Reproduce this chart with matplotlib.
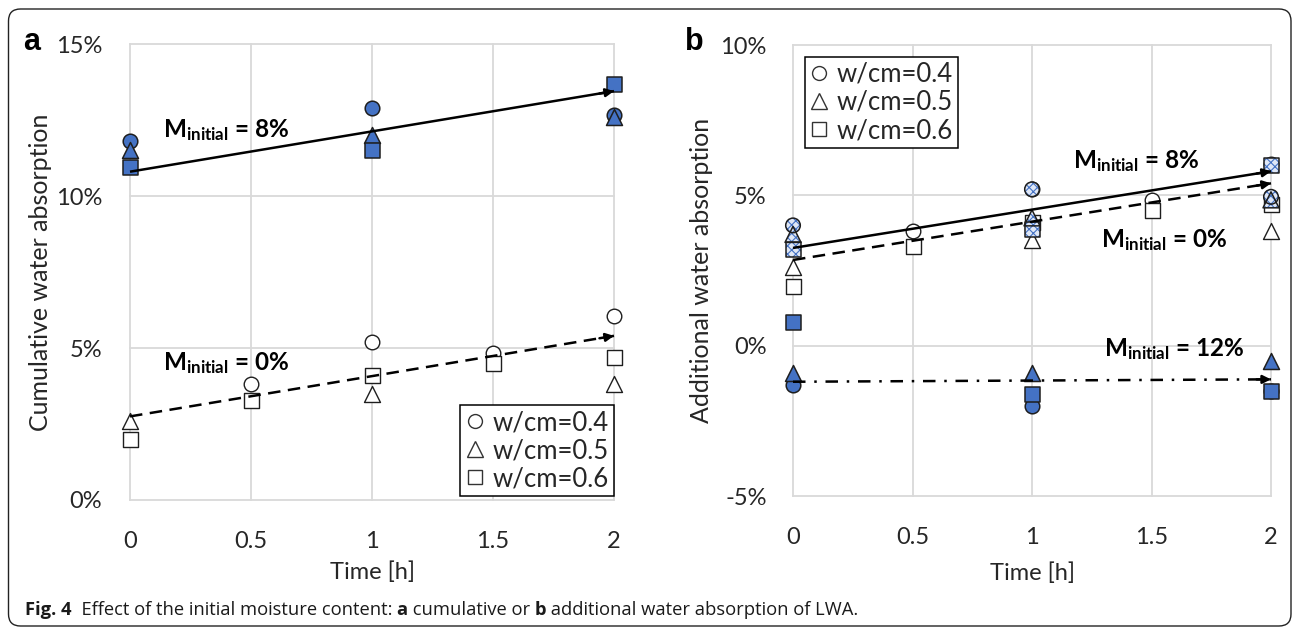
import matplotlib
matplotlib.use('Agg')
import matplotlib.pyplot as plt
from matplotlib.patches import FancyBboxPatch
from matplotlib.lines import Line2D
from matplotlib.ticker import FuncFormatter

plt.rcParams['font.family'] = ['Lato', 'DejaVu Sans']
plt.rcParams['mathtext.fontset'] = 'custom'
plt.rcParams['mathtext.rm'] = 'Lato'
plt.rcParams['mathtext.bf'] = 'Lato:bold'
plt.rcParams['mathtext.it'] = 'Lato:italic'
plt.rcParams['hatch.linewidth'] = 0.8

# ---------------- data ----------------
times = [0, 0.5, 1, 1.5, 2]
series_labels = ['w/cm=0.4', 'w/cm=0.5', 'w/cm=0.6']
trend_t = [0, 2]

# M_initial = 8 % (panel a, cumulative)
m8_t = [0, 1, 2]
a_m8_circle = [11.8, 12.9, 12.65]
a_m8_triangle = [11.5, 12.0, 12.6]
a_m8_square = [10.95, 11.5, 13.7]
a_m8_trend = [10.8, 13.45]

# M_initial = 0 % (same in both panels)
m0_circle_t = [0.5, 1, 1.5, 2]
m0_circle = [3.8, 5.2, 4.85, 6.05]
m0_triangle_t = [0, 1, 2]
m0_triangle = [2.6, 3.5, 3.8]
m0_square_t = [0, 0.5, 1, 1.5, 2]
m0_square = [2.0, 3.3, 4.1, 4.5, 4.7]
a_m0_trend = [2.75, 5.4]

# panel b, additional water absorption
b_m8_circle = [4.0, 5.2, 4.95]
b_m8_triangle = [3.7, 4.25, 4.85]
b_m8_square = [3.2, 3.85, 6.0]
b_m8_trend = [3.25, 5.8]
b_m0_trend = [2.85, 5.4]
m12_t = [0, 1, 2]
b_m12_circle = [-1.3, -2.0, -1.5]
b_m12_triangle = [-0.9, -0.9, -0.5]
b_m12_square = [0.8, -1.6, -1.5]
b_m12_trend = [-1.2, -1.12]

a_yticks = [0, 5, 10, 15]
b_yticks = [-5, 0, 5, 10]

# ---------------- style ----------------
W, H = 1293, 628
BLUE = '#4472C4'
EDGE = '#1e1e1e'
GRID = '#D9D9D9'
TXT = '#262626'
MS = {'o': 10.5, '^': 11.5, 's': 10.8}
markers = ['o', '^', 's']

fig = plt.figure(figsize=(W / 100, H / 100), dpi=100)


def px_axes(l, t, r, b):
    return fig.add_axes([l / W, 1 - b / H, (r - l) / W, (b - t) / H])


def style_axes(ax, ylim, yticks, ylabel, xpad, ypad, ylab_x, xlab_y):
    ax.set_xlim(0, 2)
    ax.set_ylim(*ylim)
    ax.set_xticks(times)
    ax.set_xticklabels([f'{t:g}' for t in times])
    ax.set_yticks(yticks)
    ax.yaxis.set_major_formatter(FuncFormatter(lambda v, p: f'{v:g}%'))
    for s in ax.spines.values():
        s.set_visible(False)
    ax.grid(True, color=GRID, lw=1.3, zorder=0)
    ax.set_axisbelow(True)
    ax.tick_params(length=0, labelsize=17, colors=TXT)
    ax.tick_params(axis='x', pad=xpad)
    ax.tick_params(axis='y', pad=ypad)
    ax.set_xlabel('Time [h]', fontsize=17, color=TXT)
    ax.set_ylabel(ylabel, fontsize=18, color=TXT)
    ax.yaxis.set_label_coords(ylab_x, 0.5)
    ax.xaxis.set_label_coords(0.5, xlab_y)
    for gl in ax.get_xgridlines() + ax.get_ygridlines():
        gl.set_clip_on(False)


def sc(ax, t, v, m, kind, z=4):
    s = MS[m] ** 2
    if kind == 'solid':
        ax.scatter(t, v, s=s, marker=m, facecolors=BLUE, edgecolors=EDGE,
                   linewidths=1.1, zorder=z, clip_on=False)
    elif kind == 'open':
        ax.scatter(t, v, s=s, marker=m, facecolors='white', edgecolors=EDGE,
                   linewidths=1.0, zorder=z, clip_on=False)
    else:  # patterned
        ax.scatter(t, v, s=s, marker=m, facecolors='#dfe7f6', edgecolors=BLUE,
                   linewidths=0, hatch='xxxx', zorder=z, clip_on=False)
        ax.scatter(t, v, s=s, marker=m, facecolors='none', edgecolors=EDGE,
                   linewidths=1.1, zorder=z + 0.01, clip_on=False)


def trend(ax, vals, ls, lw=1.8):
    ax.plot(trend_t, vals, color='black', lw=lw, ls=ls, zorder=6,
            solid_capstyle='butt', clip_on=False)
    # arrowhead at the end of the trend line
    f = 0.97
    tail = (trend_t[0] + f * (trend_t[1] - trend_t[0]),
            vals[0] + f * (vals[1] - vals[0]))
    ax.annotate('', xy=(trend_t[1], vals[1]), xytext=tail,
                arrowprops=dict(arrowstyle='-|>', color='black', lw=lw,
                                mutation_scale=12, shrinkA=0, shrinkB=0),
                zorder=6, annotation_clip=False)


def mlabel(ax, x, y, val):
    ax.text(x, y, r'$\mathbf{M}_{\mathbf{initial}}$' + f' = {val}',
            fontsize=17.5, fontweight='bold', color='black',
            ha='left', va='baseline', zorder=7)


def legend(ax, **kw):
    handles = [Line2D([], [], marker=m, ls='none', mfc='white', mec='#333333',
                      ms=10 if m != '^' else 11, mew=1.0) for m in markers]
    lg = ax.legend(handles, series_labels, fontsize=18.5, frameon=True,
                   fancybox=False, framealpha=1, edgecolor='black',
                   handlelength=0.7, handletextpad=0.35, labelspacing=0.12,
                   borderpad=0.2, borderaxespad=0, **kw)
    lg.get_frame().set_linewidth(1.1)
    for t in lg.get_texts():
        t.set_color(TXT)
    lg.set_zorder(10)


# ---------------- panel a ----------------
axa = px_axes(130, 44, 614, 500)
style_axes(axa, (0, 15), a_yticks, 'Cumulative water absorption',
           xpad=22, ypad=20, ylab_x=-0.162, xlab_y=-0.135)
for m, vals in zip(markers, [a_m8_circle, a_m8_triangle, a_m8_square]):
    sc(axa, m8_t, vals, m, 'solid')
for m, tt, vals in zip(markers, [m0_circle_t, m0_triangle_t, m0_square_t],
                       [m0_circle, m0_triangle, m0_square]):
    sc(axa, tt, vals, m, 'open', z=3)
trend(axa, a_m8_trend, '-')
trend(axa, a_m0_trend, (0, (5, 3)))
mlabel(axa, 0.135, 11.93, '8%')
mlabel(axa, 0.135, 4.26, '0%')
legend(axa, loc='lower right', bbox_to_anchor=(1.0, 0.008))

# ---------------- panel b ----------------
axb = px_axes(793, 45, 1271, 496)
style_axes(axb, (-5, 10), b_yticks, 'Additional water absorption',
           xpad=22, ypad=19, ylab_x=-0.168, xlab_y=-0.147)
for m, tt, vals in zip(markers, [m0_circle_t, m0_triangle_t, m0_square_t],
                       [m0_circle, m0_triangle, m0_square]):
    sc(axb, tt, vals, m, 'open', z=3)
for m, vals in zip(markers, [b_m8_circle, b_m8_triangle, b_m8_square]):
    sc(axb, m8_t, vals, m, 'pattern')
for m, vals in zip(markers, [b_m12_circle, b_m12_triangle, b_m12_square]):
    sc(axb, m12_t, vals, m, 'solid')
trend(axb, b_m8_trend, '-')
trend(axb, b_m0_trend, (0, (5, 3)))
trend(axb, b_m12_trend, (0, (5, 3.5, 1, 3.5)))
mlabel(axb, 1.17, 5.89, '8%')
mlabel(axb, 1.29, 3.28, '0%')
mlabel(axb, 1.30, -0.37, '12%')
legend(axb, loc='upper left', bbox_to_anchor=(0.025, 0.974))

# ---------------- panel letters ----------------
fig.text(23 / W, 1 - 50 / H, 'a', fontsize=22, fontweight='bold',
         family=['Liberation Sans', 'DejaVu Sans'], va='baseline')
fig.text(685 / W, 1 - 50 / H, 'b', fontsize=22, fontweight='bold',
         family=['Liberation Sans', 'DejaVu Sans'], va='baseline')

# ---------------- frame ----------------
frame = FancyBboxPatch((8.5 / 100, (H - 626) / 100), (1291 - 8.5) / 100,
                       (626 - 9) / 100,
                       boxstyle='round,pad=0,rounding_size=0.12',
                       transform=fig.dpi_scale_trans, facecolor='none',
                       edgecolor='#222222', lw=1.0, zorder=-1)
fig.add_artist(frame)

# ---------------- caption ----------------
cap_pieces = [('Fig. 4', 'bold'), ('  Effect of the initial moisture content: ', 'normal'),
              ('a', 'bold'), (' cumulative or ', 'normal'), ('b', 'bold'),
              (' additional water absorption of LWA.', 'normal')]
cap_family = ['Open Sans', 'DejaVu Sans']
target_w = 858 - 25
renderer = fig.canvas.get_renderer()


def caption_width(fs):
    total = 0
    for s, w in cap_pieces:
        t = fig.text(0, 0, s, fontsize=fs, fontweight=w, family=cap_family)
        total += t.get_window_extent(renderer).width
        t.remove()
    return total


fs = 12.0
fs = fs * target_w / caption_width(fs)
x = 25
for s, w in cap_pieces:
    t = fig.text(x / W, 1 - 615 / H, s, fontsize=fs, fontweight=w,
                 family=cap_family, color='#1a1a1a', va='baseline')
    x += t.get_window_extent(renderer).width

fig.savefig('out.png', dpi=100)
